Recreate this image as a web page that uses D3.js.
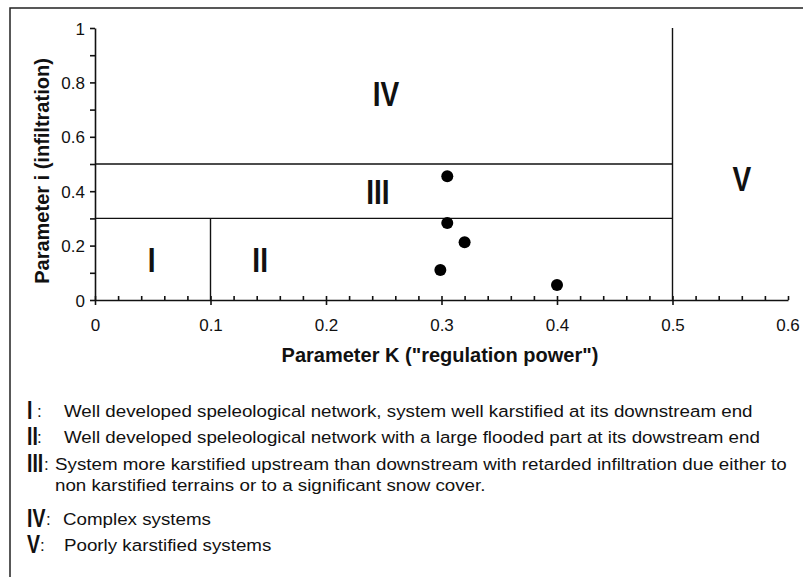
<!DOCTYPE html>
<html>
<head>
<meta charset="utf-8">
<script src="https://cdn.jsdelivr.net/npm/d3@7"></script>
<style>
  body { margin: 0; background: #fff; }
  svg { display: block; }
  text { font-family: "Liberation Sans", Arial, sans-serif; fill: #111; }
  .narrow { font-weight: bold; }
</style>
</head>
<body>
<div id="chart"></div>
<script>
// measured points (K, i)
var kValues = [0.305, 0.305, 0.32, 0.299, 0.4];
var iValues = [0.455, 0.283, 0.212, 0.11, 0.055];

var xTicks = [0, 0.1, 0.2, 0.3, 0.4, 0.5, 0.6];
var yTicks = [0, 0.2, 0.4, 0.6, 0.8, 1];

// class boundaries [x1, y1, x2, y2] in data units
var boundaries = [
  [0, 0.5, 0.5, 0.5],
  [0, 0.3, 0.5, 0.3],
  [0.1, 0, 0.1, 0.3],
  [0.5, 0, 0.5, 1]
];

var regionNames = ["I", "II", "III", "IV", "V"];
var regionK = [0.049, 0.143, 0.245, 0.252, 0.56];
var regionI = [0.15, 0.15, 0.4, 0.76, 0.45];

var legendNums = ["I", "II", "III", "IV", "V"];
var legendText = [
  ["Well developed speleological network, system well karstified at its downstream end"],
  ["Well developed speleological network with a large flooded part at its dowstream end"],
  ["System more karstified upstream than downstream with retarded infiltration due either to",
   "non karstified terrains or to a significant snow cover."],
  ["Complex systems"],
  ["Poorly karstified systems"]
];

var width = 803, height = 577;

var svg = d3.select("#chart").append("svg")
  .attr("width", width)
  .attr("height", height);

// outer frame, runs off the right and bottom like the scan
svg.append("rect")
  .attr("x", 10).attr("y", 8)
  .attr("width", 820).attr("height", 600)
  .attr("fill", "none")
  .attr("stroke", "#222")
  .attr("stroke-width", 1.5);

var x = d3.scaleLinear().domain([0, 0.6]).range([95, 788]);
var y = d3.scaleLinear().domain([0, 1]).range([300, 28]);

// condensed bold text (no narrow font installed)
function narrowText(parent, tx, ty, size, anchor, str) {
  return parent.append("text")
    .attr("class", "narrow")
    .attr("transform", "translate(" + tx + "," + ty + ") scale(0.78,1)")
    .attr("text-anchor", anchor)
    .style("font-size", size + "px")
    .text(str);
}

// y axis: ticks every 0.1, labels every 0.2
var yAxis = svg.append("g")
  .attr("transform", "translate(" + x(0) + ",0)")
  .call(d3.axisLeft(y)
    .tickValues(d3.range(0, 1.01, 0.1))
    .tickSize(5)
    .tickSizeOuter(0)
    .tickFormat(function(d) {
      var s = Math.round(d * 10);
      if (s % 2) return "";
      return s == 10 ? "1" : s == 0 ? "0" : d3.format(".1f")(d);
    }));
yAxis.selectAll("text").style("font-size", "17px").attr("x", -10).attr("dy", "0.36em");

// x axis: minor ticks every 0.02 pointing up
svg.append("g")
  .attr("transform", "translate(0," + y(0) + ")")
  .call(d3.axisBottom(x)
    .tickValues(d3.range(0, 0.601, 0.02))
    .tickSize(-4)
    .tickSizeOuter(0)
    .tickFormat(""));

// x axis major ticks and labels
var xAxis = svg.append("g")
  .attr("transform", "translate(0," + y(0) + ")")
  .call(d3.axisBottom(x)
    .tickValues(xTicks.slice(0, 6))
    .tickSize(5)
    .tickSizeOuter(0)
    .tickFormat(function(d) { return d == 0 ? "0" : d3.format(".1f")(d); }));
xAxis.select(".domain").remove();
xAxis.selectAll("text").style("font-size", "17px").attr("y", 19);

svg.append("text")
  .attr("x", x(0.6)).attr("y", y(0) + 31)
  .attr("text-anchor", "middle")
  .style("font-size", "17px")
  .text("0.6");

svg.selectAll(".domain, .tick line").attr("stroke", "#111").attr("stroke-width", 1.6);

// class boundaries
svg.selectAll(".bound")
  .data(boundaries)
  .enter().append("line")
  .attr("x1", function(d) { return x(d[0]); })
  .attr("y1", function(d) { return y(d[1]); })
  .attr("x2", function(d) { return x(d[2]); })
  .attr("y2", function(d) { return y(d[3]); })
  .attr("stroke", "#111")
  .attr("stroke-width", 1.4);

// region labels
regionNames.forEach(function(d, i) {
  narrowText(svg, x(regionK[i]), y(regionI[i]) + 13, 36, "middle", d);
});

// points
svg.selectAll(".pt")
  .data(kValues)
  .enter().append("circle")
  .attr("cx", function(d) { return x(d); })
  .attr("cy", function(d, i) { return y(iValues[i]); })
  .attr("r", 6)
  .attr("fill", "#000");

// axis titles
svg.append("text")
  .attr("x", 440).attr("y", 362)
  .attr("text-anchor", "middle")
  .style("font-size", "20px")
  .style("font-weight", "bold")
  .text("Parameter K (\"regulation power\")");

svg.append("text")
  .attr("transform", "translate(49,171) rotate(-90)")
  .attr("text-anchor", "middle")
  .style("font-size", "20px")
  .style("font-weight", "bold")
  .text("Parameter i (infiltration)");

// legend: one horizontal squeeze for every line, fitted on the first one
var legendY = [417, 443, 470, 525, 551];
var textX = [64, 64, 55, 63, 64];
var colonX = [37, 37, 44, 46, 40];

var probe = svg.append("text").style("font-size", "17px").text(legendText[0][0]);
var squeeze = 689 / probe.node().getComputedTextLength();
probe.remove();

legendNums.forEach(function(n, i) {
  var g = svg.append("g");
  narrowText(g, 27, legendY[i] + 2, 25, "start", n);
  g.append("text")
    .attr("x", colonX[i]).attr("y", legendY[i])
    .style("font-size", "17px")
    .text(":");
  legendText[i].forEach(function(t, j) {
    g.append("text")
      .attr("transform", "translate(" + textX[i] + "," + (legendY[i] + j * 21) + ") scale(" + squeeze + ",1)")
      .style("font-size", "17px")
      .text(t);
  });
});
</script>
</body>
</html>
